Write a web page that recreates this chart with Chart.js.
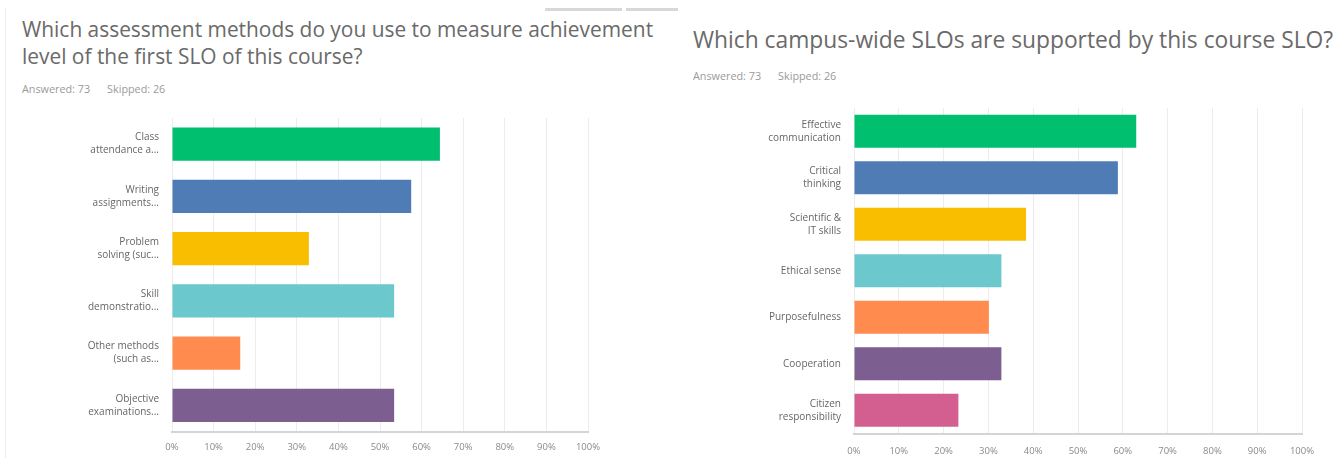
<!DOCTYPE html>
<html>
<head>
<meta charset="utf-8">
<script src="https://cdn.jsdelivr.net/npm/chart.js@4"></script>
<style>
  body { margin: 0; background: #fff; width: 1339px; height: 458px; overflow: hidden; position: relative; font-family: "Open Sans", sans-serif; }
  .title { position: absolute; color: #6a6a6a; line-height: 27px; white-space: nowrap; }
  .meta { position: absolute; color: #9a9a9a; font-size: 10.8px; white-space: nowrap; }
  .meta span { margin-left: 17px; }
  .tab { position: absolute; top: 8px; height: 3px; background: #d8d8d8; }
  .box { position: absolute; }
</style>
</head>
<body>
<div style="position:absolute;left:5px;top:8px;width:1px;height:450px;background:#eeeeee"></div>
<div class="tab" style="left:545px;width:77px"></div>
<div class="tab" style="left:626px;width:52px"></div>

<div class="title" style="left:22px;top:16px;font-size:20.9px">Which assessment methods do you use to measure achievement<br>level of the first SLO of this course?</div>
<div class="meta" style="left:22px;top:81px">Answered: 73<span>Skipped: 26</span></div>

<div class="title" style="left:693px;top:26px;font-size:22.8px">Which campus-wide SLOs are supported by this course SLO?</div>
<div class="meta" style="left:693px;top:68px">Answered: 73<span>Skipped: 26</span></div>

<div class="box" style="left:0;top:100px;width:620px;height:358px"><canvas id="leftChart"></canvas></div>
<div class="box" style="left:680px;top:90px;width:659px;height:368px"><canvas id="rightChart"></canvas></div>

<script>
// percent of respondents (answered: 73)
const methodLabels = [
  ['Class', 'attendance a...'],
  ['Writing', 'assignments...'],
  ['Problem', 'solving (suc...'],
  ['Skill', 'demonstratio...'],
  ['Other methods', '(such as...'],
  ['Objective', 'examinations...']
];
const methodValues = [64.4, 57.5, 32.9, 53.4, 16.4, 53.4];

const sloLabels = [
  ['Effective', 'communication'],
  ['Critical', 'thinking'],
  ['Scientific &', 'IT skills'],
  'Ethical sense',
  'Purposefulness',
  'Cooperation',
  ['Citizen', 'responsibility']
];
const sloValues = [63.0, 58.9, 38.4, 32.9, 30.1, 32.9, 23.3];

const xTicks = [0, 10, 20, 30, 40, 50, 60, 70, 80, 90, 100];

const palette = ['#00bf6f', '#507cb6', '#f9be00', '#6bc8cd', '#ff8b4f', '#7d5e90', '#d25f90'];

function makeChart(id, labels, values, opts) {
  new Chart(document.getElementById(id), {
    type: 'bar',
    data: {
      labels: labels,
      datasets: [{
        data: values,
        backgroundColor: palette.slice(0, values.length),
        borderWidth: 0,
        categoryPercentage: 1,
        barPercentage: opts.barPct
      }]
    },
    options: {
      indexAxis: 'y',
      responsive: true,
      maintainAspectRatio: false,
      animation: false,
      layout: { padding: { top: opts.padTop, right: opts.padRight, bottom: 0, left: 0 } },
      plugins: { legend: { display: false }, tooltip: { enabled: false } },
      scales: {
        x: {
          min: 0,
          max: 100,
          afterBuildTicks: s => { s.ticks = xTicks.map(v => ({ value: v })); },
          afterFit: s => { s.height = opts.xHeight; },
          grid: { color: '#ececec', drawTicks: false },
          border: { display: true, color: '#d4d4d4', width: 2 },
          ticks: {
            padding: opts.tickPad,
            color: '#8a8a8a',
            font: { family: 'Open Sans', size: 9.5 },
            callback: v => v + '%'
          }
        },
        y: {
          afterFit: s => { s.width = opts.yWidth; },
          grid: { display: false },
          border: { display: false },
          ticks: {
            padding: 5,
            color: '#666',
            font: { family: 'Open Sans', size: 10, lineHeight: 1.3 }
          }
        }
      }
    }
  });
}

makeChart('leftChart', methodLabels, methodValues,
  { barPct: 0.64, padTop: 14.6, padRight: 32, xHeight: 26.5, tickPad: 10, yWidth: 172 });
makeChart('rightChart', sloLabels, sloValues,
  { barPct: 0.71, padTop: 14.5, padRight: 37, xHeight: 24.5, tickPad: 12, yWidth: 174 });
</script>
</body>
</html>
